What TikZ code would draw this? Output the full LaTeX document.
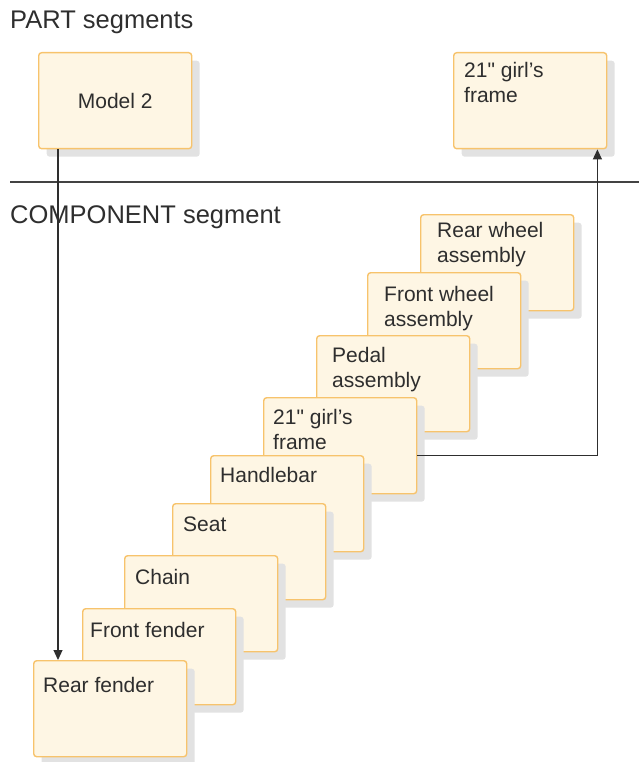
\documentclass[tikz,border=0pt]{standalone}
\usepackage{fontspec}
\setmainfont{Liberation Sans}[Ligatures=TeXOff]
\usetikzlibrary{arrows.meta, shadows}
\definecolor{box-fill}{HTML}{FEF6E4}
\definecolor{box-edge}{HTML}{F7C36C}
\definecolor{box-shade}{HTML}{E2E2E2}
\definecolor{ink}{HTML}{2E2E2E}

\begin{document}
\begin{tikzpicture}[x=1pt, y=-1pt,
      every node/.style={font=\fontsize{21}{25}\selectfont, text=ink},
      segbox/.style={draw=box-edge, line width=1.4pt, fill=box-fill,
          rounded corners=3pt, anchor=north west, inner sep=0pt,
          minimum width=153pt, minimum height=96pt,
          drop shadow={shadow xshift=8pt, shadow yshift=-8pt,
                       fill=box-shade, opacity=1}},
      segtext/.style={anchor=north west, inner sep=0pt, align=left},
      title/.style={anchor=base west, inner sep=0pt, font=\fontsize{25.5}{30}\selectfont},
      conn/.style={draw=ink, line width=1.2pt, -{Triangle[length=10pt, width=9pt]}}]
    \useasboundingbox (0,0) rectangle (639,762);

    % PART segments
    \node[title] (parthead) at (10,29) {PART segments};
    \node[segbox] (model) at (38,52) {};
    \node (modeltxt) at (model.center) {Model 2};
    \node[segbox] (topframe) at (453,52) {};
    \node[segtext] (topframetxt) at (464,62) {21" girl’s\\frame};

    \draw[draw=ink!90, line width=1.2pt] (10,182) -- (639,182);

    % COMPONENT segment
    \node[title] (comphead) at (10,223) {COMPONENT segment};
    \node[segbox] (rearwheel) at (420,214) {};
    \node[segtext] (rearwheeltxt) at (437,222) {Rear wheel\\assembly};
    \node[segbox] (frontwheel) at (367,272) {};
    \node[segtext] (frontwheeltxt) at (384,286) {Front wheel\\assembly};
    \node[segbox] (pedal) at (316,335) {};
    \node[segtext] (pedaltxt) at (332,347) {Pedal\\assembly};
    \node[segbox] (frame) at (263,397) {};
    \node[segtext] (frametxt) at (273,409) {21" girl’s\\frame};
    \node[segbox] (handlebar) at (210,455) {};
    \node[segtext] (handlebartxt) at (220,467) {Handlebar};
    \node[segbox] (seat) at (172,503) {};
    \node[segtext] (seattxt) at (183,517) {Seat};
    \node[segbox] (chain) at (124,555) {};
    \node[segtext] (chaintxt) at (135,569) {Chain};
    \node[segbox] (frontfender) at (82,608) {};
    \node[segtext] (frontfendertxt) at (90,622) {Front fender};
    \node[segbox] (rearfender) at (33,660) {};
    \node[segtext] (rearfendertxt) at (43,677) {Rear fender};

    % pointers
    \coordinate (modelout) at ([xshift=20pt]model.south west);
    \draw[conn] (modelout) -- (modelout |- rearfender.north);
    \coordinate (frameout) at ([yshift=-10pt]frame.east);
    \coordinate (topframein) at ([xshift=-10pt]topframe.south east);
    \draw[conn] (frameout) -| (topframein);
  \end{tikzpicture}
\end{document}
